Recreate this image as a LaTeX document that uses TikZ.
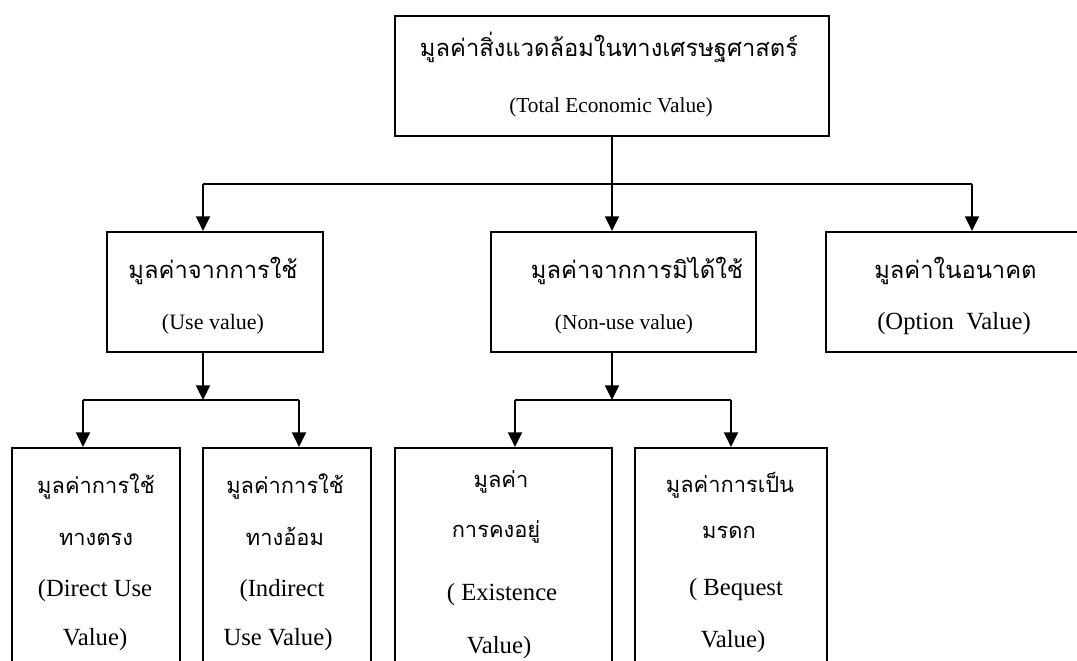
\documentclass[tikz,border=0pt]{standalone}
\usepackage{fontspec}
\setmainfont{Liberation Serif}
\newfontfamily\thaifont[Script=Thai]{Loma}
\usetikzlibrary{arrows.meta,fit}
\begin{document}
\begin{tikzpicture}[x=0.75pt,y=-0.75pt,
  box/.style={draw, line width=1.6pt, inner sep=0pt},
  ln/.style={line width=1.6pt},
  arr/.style={ln, -{Triangle[width=10.5pt,length=11pt]}},
  txt/.style={anchor=base, inner sep=0pt},
  th/.style={txt, font=\thaifont\fontsize{17.8}{21}\selectfont},
  thB/.style={txt, font=\thaifont\fontsize{16.4}{20}\selectfont},
  enS/.style={txt, font=\fontsize{16}{19}\selectfont},
  enM/.style={txt, font=\fontsize{16.5}{19}\selectfont},
  enL/.style={txt, font=\fontsize{18.5}{22}\selectfont}
]
\clip (0,0) rectangle (1077,660);
\fill[white] (0,0) rectangle (1077,660);

% boxes
\node[box, fit={(395,16) (829,136)}] (top) {};
\node[box, fit={(107,232) (323,352)}] (use) {};
\node[box, fit={(491,232) (756,352)}] (nonuse) {};
\node[box, fit={(826,232) (1095,352)}] (option) {};
\node[box, fit={(12,448) (180,690)}] (direct) {};
\node[box, fit={(203,448) (371,690)}] (indirect) {};
\node[box, fit={(395,448) (612,690)}] (exist) {};
\node[box, fit={(635,448) (827,690)}] (bequest) {};

% texts
\node[th] (top-th) at (609,56) {มูลค่าสิ่งแวดล้อมในทางเศรษฐศาสตร์};
\node[enS] (top-en) at (611,113) {(Total Economic Value)};

\node[th] (use-th) at (213,278) {มูลค่าจากการใช้};
\node[enM] (use-en) at (213,329) {(Use value)};

\node[th] (nonuse-th) at (637,278) {มูลค่าจากการมิได้ใช้};
\node[enS] (nonuse-en) at (624,329) {(Non-use value)};

\node[th, anchor=base west] (option-th) at (874,278) {มูลค่าในอนาคต};
\node[enL, anchor=base west] (option-en) at (877,329) {(Option\ \ Value)};

\node[thB] (direct-th1) at (96,493) {มูลค่าการใช้};
\node[thB] (direct-th2) at (96,545) {ทางตรง};
\node[enL] (direct-en1) at (95,596) {(Direct Use};
\node[enL] (direct-en2) at (95,645) {Value)};

\node[thB] (indirect-th1) at (285,493) {มูลค่าการใช้};
\node[thB] (indirect-th2) at (285,545) {ทางอ้อม};
\node[enL] (indirect-en1) at (282,596) {(Indirect};
\node[enL] (indirect-en2) at (278,645) {Use Value)};

\node[thB] (exist-th1) at (501,487) {มูลค่า};
\node[thB] (exist-th2) at (496,537) {การคงอยู่};
\node[enL] (exist-en1) at (502,600) {( Existence};
\node[enL] (exist-en2) at (499,653) {Value)};

\node[thB] (bequest-th1) at (730,492) {มูลค่าการเป็น};
\node[thB] (bequest-th2) at (729,538) {มรดก};
\node[enL] (bequest-en1) at (736,595) {( Bequest};
\node[enL] (bequest-en2) at (733,647) {Value)};

% junctions
\coordinate (jl) at (203,184);
\coordinate (jm) at (612,184);
\coordinate (jr) at (972,184);
\coordinate (ju) at (203,400);
\coordinate (jul) at (83,400);
\coordinate (jur) at (299,400);
\coordinate (jn) at (612,400);
\coordinate (jnl) at (515,400);
\coordinate (jnr) at (731,400);

% connectors level 1
\draw[ln] (top.south -| jm) -- (jm);
\draw[ln] (jl) -- (jr);
\draw[arr] (jl) -- (jl |- use.north);
\draw[arr] (jm) -- (jm |- nonuse.north);
\draw[arr] (jr) -- (jr |- option.north);

% connectors level 2
\draw[arr] (use.south -| ju) -- (ju);
\draw[ln] (jul) -- (jur);
\draw[arr] (jul) -- (jul |- direct.north);
\draw[arr] (jur) -- (jur |- indirect.north);

\draw[arr] (nonuse.south -| jn) -- (jn);
\draw[ln] (jnl) -- (jnr);
\draw[arr] (jnl) -- (jnl |- exist.north);
\draw[arr] (jnr) -- (jnr |- bequest.north);
\end{tikzpicture}
\end{document}
